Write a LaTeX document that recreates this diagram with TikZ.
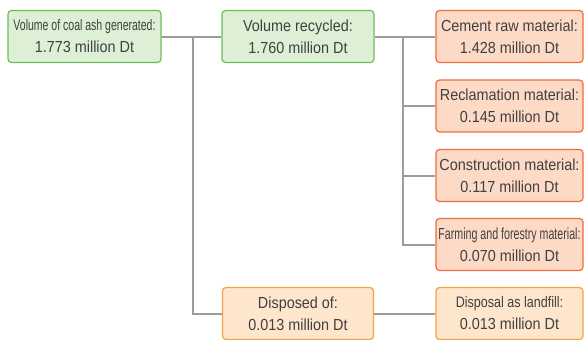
\documentclass[tikz,border=0pt]{standalone}
\usepackage{fontspec}
\usepackage{graphicx}
\setmainfont[FakeStretch=0.9]{Liberation Sans}
\usetikzlibrary{calc}
\definecolor{gfill}{HTML}{DDEFD5}
\definecolor{gdraw}{HTML}{6BBF57}
\definecolor{ofill}{HTML}{FDDAC6}
\definecolor{odraw}{HTML}{EF6A3C}
\definecolor{lfill}{HTML}{FEE6CD}
\definecolor{ldraw}{HTML}{F4A443}
\definecolor{txt}{HTML}{404040}
\definecolor{conn}{HTML}{9C9C9C}
\tikzset{
  box/.style={rounded corners=3.5pt, line width=1.2pt, minimum height=52pt,
    text=txt, align=center, inner sep=0pt,
    font=\fontsize{16}{22}\selectfont},
  gbox/.style={box, fill=gfill, draw=gdraw, minimum width=152pt},
  obox/.style={box, fill=ofill, draw=odraw, minimum width=147pt},
  lbox/.style={box, fill=lfill, draw=ldraw},
  link/.style={draw=conn, line width=2pt}
}
\begin{document}
\begin{tikzpicture}[x=1pt,y=-1pt]
\useasboundingbox (0,0) rectangle (584,340);
\node[gbox, minimum width=153pt] (gen) at (84.5,36.5) {\scalebox{0.73}[0.95]{Volume of coal ash generated:}\\1.773 million Dt};
\node[gbox] (rec) at (298,36.5) {Volume recycled:\\1.760 million Dt};
\node[obox] (cem) at (509.5,36.5) {Cement raw material:\\1.428 million Dt};
\node[obox] (recl) at (509.5,106) {Reclamation material:\\0.145 million Dt};
\node[obox] (con) at (509.5,175.5) {Construction material:\\0.117 million Dt};
\node[obox] (farm) at (509.5,244.5) {\scalebox{0.74}[1]{Farming and forestry material:}\\0.070 million Dt};
\node[lbox, minimum width=151pt] (dis) at (298,313.5) {Disposed of:\\0.013 million Dt};
\node[lbox, minimum width=147pt] (land) at (509.5,313.5) {\scalebox{0.87}[0.95]{Disposal as landfill:}\\0.013 million Dt};
\coordinate (j1) at (193,36.5);
\coordinate (j2) at (403,36.5);
\path[link] (gen.east) -- (rec.west);
\path[link] (j1) |- (dis.west);
\path[link] (rec.east) -- (cem.west);
\path[link] (j2) |- (recl.west);
\path[link] (j2) |- (con.west);
\path[link] (j2) |- (farm.west);
\path[link] (dis.east) -- (land.west);
\end{tikzpicture}
\end{document}
